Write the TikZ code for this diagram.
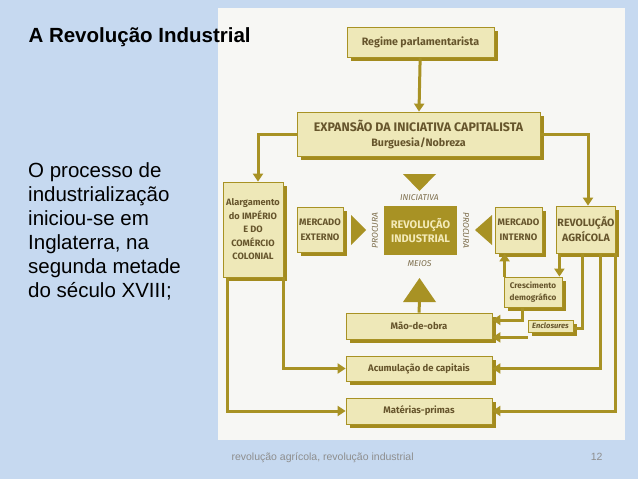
\documentclass[tikz,border=0pt]{standalone}
\usepackage{fontspec}
\setmainfont{Liberation Sans}
\newfontfamily\diagfont{Fira Sans}
\usetikzlibrary{arrows.meta, shadows, calc}

\definecolor{slidebg}{HTML}{C6D9F0}
\definecolor{panelbg}{HTML}{F7F7F4}
\definecolor{ochre}{HTML}{A89224}
\definecolor{ochredark}{HTML}{A38B1E}
\definecolor{boxfill}{HTML}{EEE8B8}
\definecolor{boxtext}{HTML}{66552C}
\definecolor{revtext}{HTML}{F3EAB8}
\definecolor{foottext}{HTML}{8E8E8E}

\begin{document}
\begin{tikzpicture}[
        x=1pt, y=-1pt,
        >={Triangle[length=8pt, width=10pt]},
        box/.style={
            draw=ochre,
            fill=boxfill,
            line width=0.8pt,
            align=center,
            inner sep=1pt,
            text=boxtext,
            font=\diagfont\bfseries\fontsize{9.5}{11}\selectfont,
            drop shadow={shadow xshift=3.5pt, shadow yshift=-3.5pt, fill=ochredark, opacity=1}
        },
        revbox/.style={
            fill=ochre,
            align=center,
            inner sep=1pt,
            text=revtext,
            font=\diagfont\bfseries\fontsize{11}{14}\selectfont
        },
        conn/.style={draw=ochre, line width=3pt},
        arr/.style={conn, ->},
        lbl/.style={
            text=boxtext!85,
            inner sep=0pt,
            font=\diagfont\itshape\fontsize{8.5}{9}\selectfont
        }
    ]

        % slide and picture panel
        \fill[slidebg] (0,0) rectangle (638,479);
        \fill[panelbg] (218,8) rectangle (625,440);
        \useasboundingbox (0,0) rectangle (638,479);

        \node[anchor=base west, font=\bfseries\fontsize{20.5}{24}\selectfont] (title) at (25,42) {A Revolução Industrial};
        \node[anchor=north west, align=left, inner sep=0pt, font=\fontsize{20.5}{24}\selectfont] (intro) at (28,162)
            {O processo de\\industrialização\\iniciou-se em\\Inglaterra, na\\segunda metade\\do século XVIII;};

        \node[box, minimum width=147pt, minimum height=30pt, font=\diagfont\bfseries\fontsize{10.7}{12}\selectfont] (regime) at (420.5,42) {Regime parlamentarista};
        \node[box, minimum width=243pt, minimum height=44pt, font=\diagfont\bfseries\fontsize{10.7}{12}\selectfont] (expansao) at (418.5,134)
            {{\fontsize{12.4}{13}\selectfont EXPANSÃO DA INICIATIVA CAPITALISTA}\\[3pt]Burguesia/Nobreza};

        \node[box, minimum width=60pt, minimum height=95pt, font=\diagfont\bfseries\fontsize{9.2}{13.5}\selectfont] (alarg) at (253,229.5) {Alargamento\\do IMPÉRIO\\E DO\\COMÉRCIO\\COLONIAL};
        \node[box, minimum width=46pt, minimum height=45pt, font=\diagfont\bfseries\fontsize{9.4}{15}\selectfont] (merext) at (320,229.5) {MERCADO\\EXTERNO};
        \node[revbox, minimum width=73pt, minimum height=49pt] (revind) at (420.5,230.5) {REVOLUÇÃO\\INDUSTRIAL};
        \node[box, minimum width=47pt, minimum height=46pt, font=\diagfont\bfseries\fontsize{9.4}{15}\selectfont] (merint) at (518.5,230) {MERCADO\\INTERNO};
        \node[box, minimum width=58pt, minimum height=47pt, font=\diagfont\bfseries\fontsize{10.6}{15}\selectfont] (revagr) at (586,229.5) {REVOLUÇÃO\\AGRÍCOLA};
        \node[box, minimum width=58pt, minimum height=30pt, font=\diagfont\bfseries\fontsize{8.2}{12}\selectfont] (cresc) at (533,292) {Crescimento\\demográfico};
        \node[box, minimum width=45pt, minimum height=12pt, font=\diagfont\bfseries\itshape\fontsize{7.6}{8}\selectfont] (enclos) at (550.5,326) {Enclosures};

        \node[box, minimum width=146pt, minimum height=26pt] (maoobra) at (419,326) {Mão-de-obra};
        \node[box, minimum width=146pt, minimum height=25pt] (acumul) at (419,368.5) {Acumulação de capitais};
        \node[box, minimum width=146pt, minimum height=26pt] (materias) at (419,411) {Matérias-primas};

        % triangles round the centre
        \fill[ochre] (403,174) -- (436,174) -- (419.5,191) -- cycle;
        \fill[ochre] (403,302) -- (436,302) -- (419.5,278) -- cycle;
        \fill[ochre] (351,215) -- (351,245) -- (366,230) -- cycle;
        \fill[ochre] (492,215) -- (492,245) -- (475,230) -- cycle;
        \coordinate (meiosbase) at (419.5,301);

        \node[lbl] (iniciativa) at (419.5,198) {INICIATIVA};
        \node[lbl] (meios) at (419.5,264) {MEIOS};
        \node[lbl, rotate=90] (procuraL) at (375,230.5) {PROCURA};
        \node[lbl, rotate=-90] (procuraR) at (466,230.5) {PROCURA};

        \draw[arr] (regime) -- (expansao);
        \draw[arr] (expansao.west) -| ([xshift=5pt]alarg.north);
        \draw[arr] (expansao.east) -| ([xshift=2pt]revagr.north);
        \draw[conn] (maoobra.north) -- (meiosbase);

        \draw[arr] (alarg.south east) |- (acumul.west);
        \draw[arr] ([xshift=5pt]alarg.south west) |- (materias.west);

        \draw[arr] ([xshift=-3pt]cresc.north east |- revagr.south) -- ([xshift=-3pt]cresc.north east);
        \draw[arr] ([xshift=1pt]cresc.north west) -- ([xshift=1pt]cresc.north west |- merint.south);
        \draw[arr] ([xshift=-11pt]cresc.south) |- ([yshift=6pt]maoobra.east);
        \draw[conn] ([xshift=26pt]revagr.south west) |- ([yshift=-2pt]enclos.east);
        \draw[arr] ([yshift=-5pt]enclos.south west) -- ([yshift=-5pt]enclos.south west -| maoobra.east);
        \draw[arr] ([xshift=44pt]revagr.south west) |- (acumul.east);
        \draw[arr] ([xshift=59pt]revagr.south west) |- (materias.east);

        \node[anchor=base west, text=foottext, font=\fontsize{10.5}{12}\selectfont] (footer) at (228,460) {revolução agrícola, revolução industrial};
        \node[anchor=base east, text=foottext, font=\fontsize{10.5}{12}\selectfont] (pagenum) at (606,460) {12};

    \end{tikzpicture}
\end{document}
